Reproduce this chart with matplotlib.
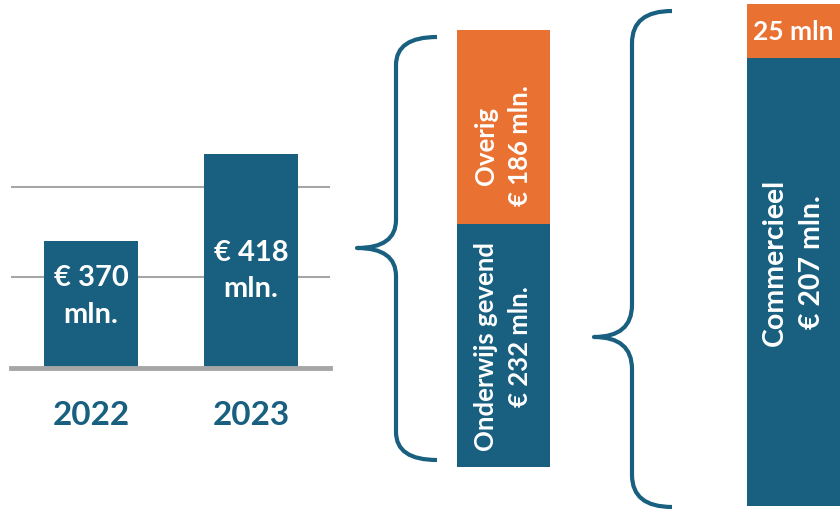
import matplotlib.pyplot as plt
from matplotlib.path import Path
from matplotlib.patches import PathPatch

plt.rcParams['font.family'] = ['Lato', 'DejaVu Sans']

BLUE = '#185F80'
ORANGE = '#E97132'
GREY = '#A6A6A6'

# totals per year (mln euro)
years = ['2022', '2023']
totals = [370, 418]

# split of 2023 total
split_names = ['Onderwijs gevend', 'Overig']
split_values = [232, 186]

# split of onderwijs gevend
sub_names = ['Commercieel', '']
sub_values = [207, 25]


def brace(ax, x_tip, x_mid, x_end, y_top, y_tip, y_bot, ry):
    # curly brace in pixel coords (y down), tip pointing left
    verts = [
        (x_end, y_top), (x_mid, y_top), (x_mid, y_top + ry),
        (x_mid, y_tip - ry),
        (x_mid, y_tip), (x_tip, y_tip),
        (x_mid, y_tip), (x_mid, y_tip + ry),
        (x_mid, y_bot - ry),
        (x_mid, y_bot), (x_end, y_bot),
    ]
    codes = [Path.MOVETO, Path.CURVE3, Path.CURVE3,
             Path.LINETO,
             Path.CURVE3, Path.CURVE3,
             Path.CURVE3, Path.CURVE3,
             Path.LINETO,
             Path.CURVE3, Path.CURVE3]
    ax.add_patch(PathPatch(Path(verts, codes), fill=False, ec=BLUE, lw=3,
                           capstyle='butt', joinstyle='round'))


def main():
    W, H = 840, 510
    fig = plt.figure(figsize=(8.4, 5.1), dpi=100)

    # left chart: totals per year
    ax1 = fig.add_axes([11 / W, 141 / H, 319 / W, 254 / H])
    ax1.set_ylim(300, 440)
    ax1.set_xlim(-0.5, 1.494)
    for g in [350, 400]:
        ax1.axhline(g, color=GREY, lw=1.5, zorder=0)
    ax1.bar(range(len(years)), totals, width=0.5875, bottom=0, color=BLUE, zorder=2)
    ax1.axhline(300, color=GREY, lw=3.5, zorder=3, clip_on=False)
    label_y = [340, 354]
    for i, (yr, v) in enumerate(zip(years, totals)):
        ax1.text(i, label_y[i], f'€ {v}\nmln.', ha='center', va='center', color='white',
                 fontsize=21, fontweight='bold', linespacing=1.5, zorder=4)
        ax1.text(i, -0.185, yr, transform=ax1.get_xaxis_transform(), ha='center',
                 va='center', color=BLUE, fontsize=24, fontweight='bold')
    ax1.axis('off')

    # stacked bar: split of 2023
    ax2 = fig.add_axes([457 / W, 42 / H, 93 / W, 437 / H])
    ax2.set_xlim(-0.5, 0.5)
    ax2.set_ylim(0, sum(split_values))
    colors = [BLUE, ORANGE]
    frac = [0.5, 0.41]
    bottom = 0
    for name, v, c, f in zip(split_names, split_values, colors, frac):
        ax2.bar(0, v, width=1, bottom=bottom, color=c)
        ax2.text(0, bottom + f * v, f'{name}\n€ {v} mln.', rotation=90, ha='center',
                 va='center', color='white', fontsize=18.5, fontweight='bold',
                 linespacing=1.5, multialignment='center')
        bottom += v
    ax2.axis('off')

    # stacked bar: split of onderwijs gevend
    ax3 = fig.add_axes([747 / W, 3 / H, 93 / W, 502 / H])
    ax3.set_xlim(-0.5, 0.5)
    ax3.set_ylim(0, sum(sub_values))
    bottom = 0
    for name, v, c in zip(sub_names, sub_values, colors):
        ax3.bar(0, v, width=1, bottom=bottom, color=c)
        if name:
            ax3.text(0, bottom + 0.547 * v, f'{name}\n€ {v} mln.', rotation=90,
                     ha='center', va='center', color='white', fontsize=20.5,
                     fontweight='bold', linespacing=1.55, multialignment='center')
        else:
            ax3.text(0, bottom + 0.5 * v, f'{v} mln', ha='center', va='center',
                     color='white', fontsize=19, fontweight='bold')
        bottom += v
    ax3.axis('off')

    # braces
    ov = fig.add_axes([0, 0, 1, 1], zorder=-1)
    ov.set_xlim(0, W)
    ov.set_ylim(H, 0)
    ov.axis('off')
    brace(ov, 357, 396, 437, 38, 249, 461, 28)
    brace(ov, 594, 632, 672, 12, 338, 508, 32)

    fig.savefig('out.png', dpi=100)


if __name__ == '__main__':
    main()
